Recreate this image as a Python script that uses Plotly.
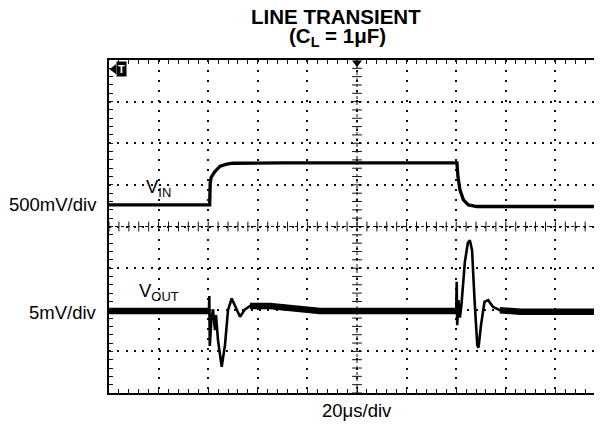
import plotly.graph_objects as go

# ---- data ----
# time in microseconds (20 us/div), voltages relative to each channel's resting level
vin_t = [0, 40.6, 40.8, 41.2, 42.7, 44.8, 47.5, 50.0, 70.0, 140.3, 140.7, 141.5,
         142.9, 144.9, 148.3, 153.6, 202]
vin_mv = [0, 0, 260, 330, 400, 465, 490, 500, 505, 505, 340, 180, 60, 0, -20, -20, -20]

vout_t = [0, 40.3, 40.44, 40.64, 41.33, 41.94, 42.74, 43.15, 43.95, 45.44, 46.77,
          47.98, 49.47, 50.8, 52.82, 54.84, 56.85, 64.9, 77.0, 85.0,
          140.0, 140.2, 140.4, 140.9, 141.5, 142.1, 143.5, 144.7, 145.5, 146.4,
          147.4, 148.5, 149.0, 150.0, 151.4, 152.9, 154.8, 157.6, 165.7, 202]
vout_mv = [0, 0, 1.8, -4.2, -0.8, 0.2, -2.3, -0.5, -3.5, -6.7, -4.1,
           0.1, 1.5, 0.7, -0.7, 0.2, 0.6, 0.6, 0.25, 0,
           0, 3.5, -1.7, 1.3, -0.8, 0.7, 5.9, 8.2, 8.5, 7.3,
           1.3, -4.1, -4.4, -1.7, 1.1, 1.3, 0.5, 0.1, -0.1, -0.1]

vin_scale_mv_per_div = 500
vout_scale_mv_per_div = 5
time_per_div_us = 20

# ---- channel placement on the 8-division screen ----
VIN_REF_DIV = 4.52
VOUT_REF_DIV = 1.97

vin_y = [VIN_REF_DIV + v / vin_scale_mv_per_div for v in vin_mv]
vout_y = [VOUT_REF_DIV + v / vout_scale_mv_per_div for v in vout_mv]

W, H = 602, 433
OFF = 8                      # page body margin
L, T, B = 101, 52, 48
X_MAX = (W - L) / 49.6 * time_per_div_us

FONT = "Liberation Sans, Arial, Helvetica, sans-serif"
INK = "#111111"

fig = go.Figure()

# centre cross-hair tick marks
tick_x = [i * time_per_div_us / 5 for i in range(0, 51)]
tick_y = [i * 0.2 for i in range(0, 41)]
fig.add_trace(go.Scatter(x=tick_x, y=[4] * len(tick_x), mode="markers",
                         marker=dict(symbol="line-ns-open", size=7, color=INK,
                                     line=dict(width=1, color=INK)),
                         hoverinfo="skip", showlegend=False))
fig.add_trace(go.Scatter(x=[100] * len(tick_y), y=tick_y, mode="markers",
                         marker=dict(symbol="line-ew-open", size=7, color=INK,
                                     line=dict(width=1, color=INK)),
                         hoverinfo="skip", showlegend=False))

# VIN trace
fig.add_trace(go.Scatter(x=vin_t, y=vin_y, mode="lines",
                         line=dict(color="black", width=3.3),
                         hoverinfo="skip", showlegend=False))

# VOUT: noisy quiet band (thick) + the transient itself (thinner)
quiet_windows = [(0, 40.3), (56.85, 140.0), (157.6, 202)]
for a, b in quiet_windows:
    seg_t = [t for t in vout_t if a <= t <= b]
    seg_y = [y for t, y in zip(vout_t, vout_y) if a <= t <= b]
    fig.add_trace(go.Scatter(x=seg_t, y=seg_y, mode="lines",
                             line=dict(color="black", width=6.5),
                             hoverinfo="skip", showlegend=False))
fig.add_trace(go.Scatter(x=vout_t, y=vout_y, mode="lines",
                         line=dict(color="black", width=2.6),
                         hoverinfo="skip", showlegend=False))

# markers: top centre trigger-position, right edge marker, trigger marker arrow
fig.add_trace(go.Scatter(x=[100], y=[7.93], mode="markers",
                         marker=dict(symbol="triangle-down", size=8, color="black"),
                         hoverinfo="skip", showlegend=False, cliponaxis=False))
fig.add_trace(go.Scatter(x=[197.8], y=[7.92], mode="markers",
                         marker=dict(symbol="triangle-left", size=9, color="black"),
                         hoverinfo="skip", showlegend=False, cliponaxis=False))
fig.add_trace(go.Scatter(x=[2.0], y=[7.78], mode="markers",
                         marker=dict(symbol="triangle-left", size=9, color="black"),
                         hoverinfo="skip", showlegend=False, cliponaxis=False))

# centre cross-hair lines
fig.add_shape(type="line", x0=100, x1=100, y0=0, y1=8,
              line=dict(color=INK, width=1, dash="dot"), layer="above")
fig.add_shape(type="line", x0=0, x1=X_MAX, y0=4, y1=4,
              line=dict(color=INK, width=1, dash="dot"), layer="above")


def px(xs):
    return (xs - OFF - L) / (W - L)


def py(ys):
    return (H - B - (ys - OFF)) / (H - B - T)


ann = []
ann.append(dict(x=px(336), y=py(17), text="<b>LINE TRANSIENT</b>",
                font=dict(size=20.5, family=FONT, color="black")))
ann.append(dict(x=px(337), y=py(37), text="<b>(C<sub>L</sub> = 1μF)</b>",
                font=dict(size=20.5, family=FONT, color="black")))
ann.append(dict(x=px(99), y=py(205), text="500mV/div", xanchor="right",
                font=dict(size=18.5, family=FONT, color="black")))
ann.append(dict(x=px(99), y=py(312), text="5mV/div", xanchor="right",
                font=dict(size=18.5, family=FONT, color="black")))
ann.append(dict(x=px(357), y=py(411), text="20μs/div",
                font=dict(size=18.5, family=FONT, color="black")))
ann.append(dict(x=px(144), y=py(188), text="V<sub>IN</sub>", xanchor="left",
                font=dict(size=18.5, family=FONT, color="black")))
ann.append(dict(x=px(137), y=py(292), text="V<sub>OUT</sub>", xanchor="left",
                font=dict(size=18.5, family=FONT, color="black")))
ann.append(dict(x=px(121.5), y=py(68.5), text="<b>T</b>",
                font=dict(size=11, family=FONT, color="white"),
                bgcolor="black", borderpad=1))
for a in ann:
    a.setdefault("xanchor", "center")
    a.update(xref="paper", yref="paper", showarrow=False, yanchor="middle")
fig.update_layout(annotations=ann)

fig.update_layout(
    width=W, height=H,
    margin=dict(l=L, r=0, t=T, b=B, pad=0),
    paper_bgcolor="white", plot_bgcolor="white",
    showlegend=False,
    xaxis=dict(range=[0, X_MAX], dtick=time_per_div_us, tick0=0,
               showgrid=True, gridcolor=INK, gridwidth=2, griddash="2px,7.92px",
               zeroline=False, showticklabels=False,
               ticks="inside", ticklen=4, tickcolor=INK, tickwidth=1,
               minor=dict(dtick=time_per_div_us / 5, ticks="inside", ticklen=4,
                          tickcolor=INK, tickwidth=1, showgrid=False),
               showline=True, linecolor="black", linewidth=2, mirror="ticks",
               fixedrange=True),
    yaxis=dict(range=[0, 8], dtick=1, tick0=0,
               showgrid=True, gridcolor=INK, gridwidth=2, griddash="2px,6.33px",
               zeroline=False, showticklabels=False,
               ticks="inside", ticklen=4, tickcolor=INK, tickwidth=1,
               minor=dict(dtick=0.2, ticks="inside", ticklen=4,
                          tickcolor=INK, tickwidth=1, showgrid=False),
               showline=True, linecolor="black", linewidth=2, mirror=False,
               fixedrange=True),
)

fig.write_html("out.html")
